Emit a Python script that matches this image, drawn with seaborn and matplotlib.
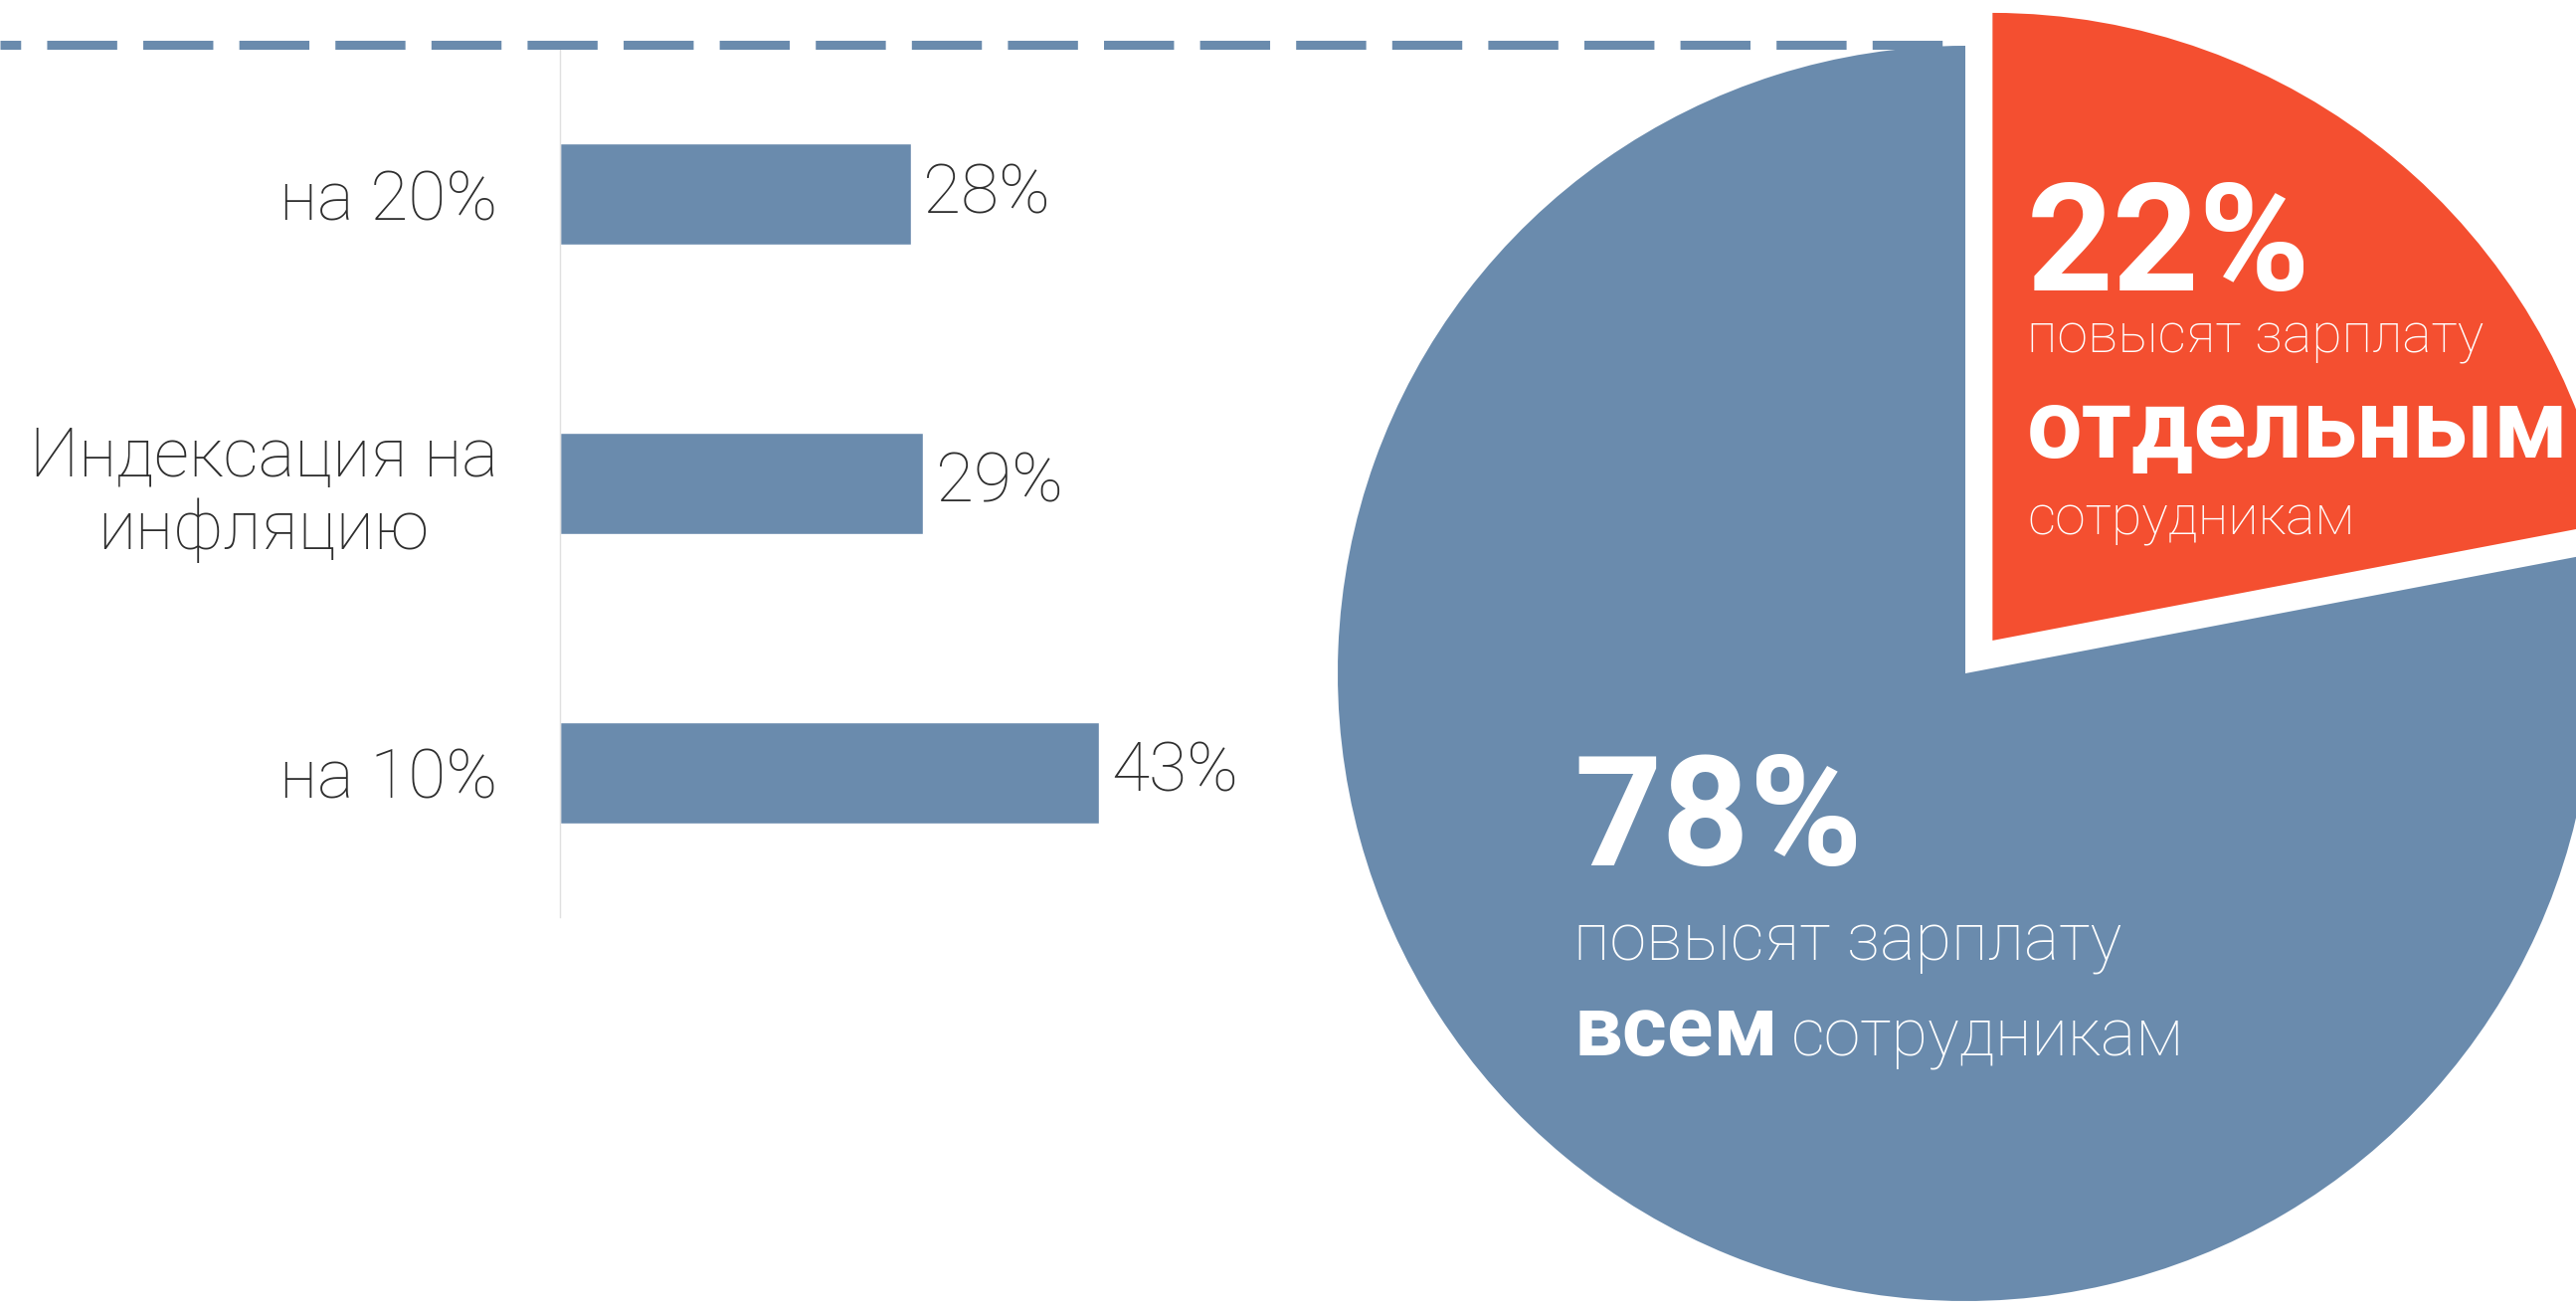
import matplotlib
matplotlib.use("Agg")
import matplotlib.pyplot as plt
from matplotlib.lines import Line2D
import seaborn as sns
import pandas as pd

# Data
categories = ["на 20%", "Индексация на\nинфляцию", "на 10%"]
shares = [28, 29, 43]
pie_names = ["отдельным", "всем"]
pie_values = [22, 78]

BLUE = "#6a8bad"
RED = "#f44f30"
TEXT = "#2e2e2e"
W, H = 2590, 1316

sns.set_style("white")
plt.rcParams["font.family"] = ["Roboto", "DejaVu Sans"]

fig = plt.figure(figsize=(W / 100, H / 100), dpi=100)


def fx(px):
    return px / W


def fy(py):
    return 1 - py / H


# ---- bar chart ----
ax = fig.add_axes([fx(563), fy(922), (1193 - 563) / W, (922 - 50) / H])
df = pd.DataFrame({"cat": categories, "share": shares})
sns.barplot(data=df, x="share", y="cat", orient="h", color=BLUE,
            saturation=1, width=0.35, ax=ax)
ax.set_xlim(0, 50)
ax.set_ylim(2.5, -0.5)
ax.set_xlabel("")
ax.set_ylabel("")
ax.set_xticks([])
for s in ["top", "right", "bottom"]:
    ax.spines[s].set_visible(False)
ax.spines["left"].set_color("#e0e0e0")
ax.spines["left"].set_linewidth(1)
ax.tick_params(axis="y", length=0, pad=45, labelsize=50, labelcolor=TEXT)
for lbl in ax.get_yticklabels():
    lbl.set_fontweight("light")
    lbl.set_multialignment("center")
    lbl.set_linespacing(1.15)
ax.bar_label(ax.containers[0], labels=[f"{v}%" for v in shares], padding=9,
             fontsize=50, fontweight="light", color=TEXT)

# ---- pie ----
R, cx, cy, lim = 631, 1976, 677, 1.1
half = R * lim
pax = fig.add_axes([fx(cx - half), fy(cy + half), 2 * half / W, 2 * half / H])
pax.pie(pie_values, colors=[RED, BLUE], startangle=90, counterclock=False,
        explode=[0.068, 0], radius=1, wedgeprops=dict(linewidth=0))
pax.set_xlim(-lim, lim)
pax.set_ylim(-lim, lim)
pax.set_aspect("equal")
pax.axis("off")

# dashed rule on top
fig.add_artist(Line2D([0, fx(1955)], [fy(45), fy(45)], transform=fig.transFigure,
                      color=BLUE, lw=6.5, linestyle=(5.5, (7.8, 2.9))))

# pie annotations
def put(x, y, s, size, weight):
    fig.text(fx(x), fy(y), s, fontsize=size, fontweight=weight, color="white",
             ha="left", va="baseline")


put(2038, 292, f"{pie_values[0]}%", 109, "bold")
put(2038, 354, "повысят зарплату", 40, "light")
put(2038, 460, pie_names[0], 71, "bold")
put(2038, 538, "сотрудникам", 40, "light")

put(1582, 870, f"{pie_values[1]}%", 111, "bold")
put(1582, 965, "повысят зарплату", 48, "light")
put(1582, 1061, pie_names[1], 62, "bold")
put(1801, 1061, "сотрудникам", 48, "light")

fig.savefig("out.png", dpi=100)
